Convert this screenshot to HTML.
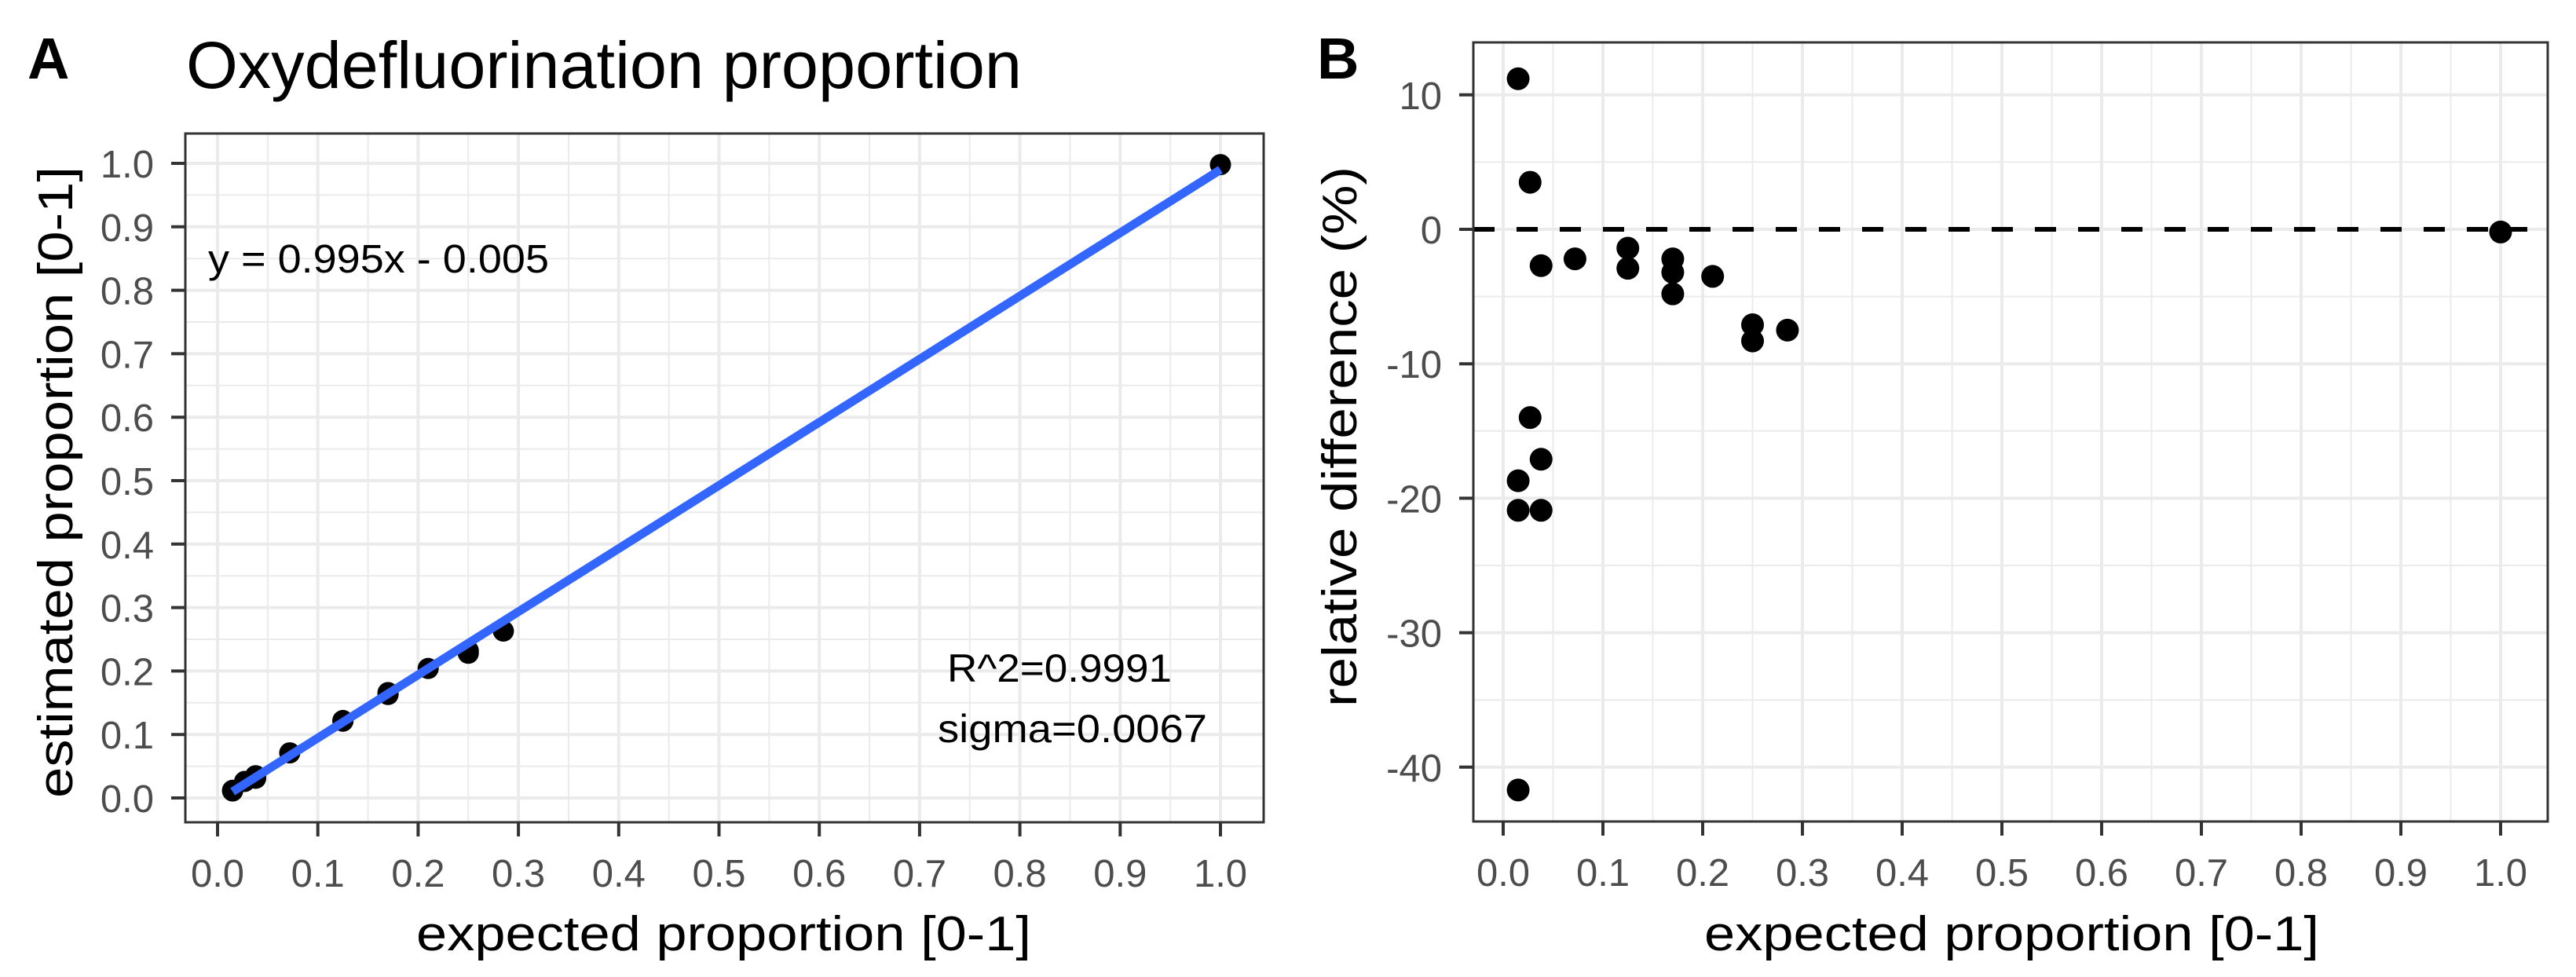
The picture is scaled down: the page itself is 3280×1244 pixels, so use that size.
<!DOCTYPE html>
<html><head><meta charset="utf-8"><style>
html,body{margin:0;padding:0;background:#fff}
svg{display:block}
text{font-family:"Liberation Sans",Arial,sans-serif}
</style></head><body>
<svg id="fig" width="3280" height="1244" viewBox="0 0 3280 1244" xmlns="http://www.w3.org/2000/svg">
<rect width="3280" height="1244" fill="#fff"/>
<text x="35" y="100" font-size="74" font-weight="bold">A</text>
<text x="237" y="112" font-size="84" textLength="1064" lengthAdjust="spacingAndGlyphs">Oxydefluorination proportion</text>
<text x="1677" y="100" font-size="74" font-weight="bold">B</text>
<g id="pa"></g>
<g id="pb"></g>
</svg>
<script>
// Panel A data
const aX = [0.015,0.015,0.027,0.038,0.038,0.072,0.125,0.125,0.17,0.17,0.21,0.25,0.25,0.285,1.0];
const aY = [0.012,0.011,0.026,0.031,0.035,0.071,0.122,0.121,0.166,0.163,0.204,0.232,0.228,0.263,0.998];
const aSlope = 0.995, aIntercept = -0.005;
const aXTicks = [0,0.1,0.2,0.3,0.4,0.5,0.6,0.7,0.8,0.9,1.0];
const aXTickLabels = ["0.0","0.1","0.2","0.3","0.4","0.5","0.6","0.7","0.8","0.9","1.0"];
const aYTicks = [0,0.1,0.2,0.3,0.4,0.5,0.6,0.7,0.8,0.9,1.0];
const aYTickLabels = ["0.0","0.1","0.2","0.3","0.4","0.5","0.6","0.7","0.8","0.9","1.0"];
// Panel B data
const bX = [0.015,0.027,0.038,0.072,0.125,0.125,0.17,0.17,0.17,0.21,0.25,0.25,0.285,1.0,0.027,0.038,0.015,0.015,0.038,0.015];
const bY = [11.2,3.5,-2.7,-2.2,-1.4,-2.9,-2.2,-3.2,-4.8,-3.5,-7.1,-8.3,-7.5,-0.2,-14.0,-17.1,-18.7,-20.9,-20.9,-41.7];
const bXTicks = [0,0.1,0.2,0.3,0.4,0.5,0.6,0.7,0.8,0.9,1.0];
const bXTickLabels = ["0.0","0.1","0.2","0.3","0.4","0.5","0.6","0.7","0.8","0.9","1.0"];
const bYTicks = [10,0,-10,-20,-30,-40];
const bYTickLabels = ["10","0","-10","-20","-30","-40"];
const bYMinor = [5,-5,-15,-25,-35];

const NS="http://www.w3.org/2000/svg";
function mk(parent,tag,attrs){const e=document.createElementNS(NS,tag);for(const k in attrs)e.setAttribute(k,attrs[k]);parent.appendChild(e);return e;}

function panel(g,box,sx,sy,xt,xtl,yt,ytl,yminor,xminor){
  const [L,T,R,B]=box;
  for(const v of xminor){const l=mk(g,'line',{x1:sx(v),x2:sx(v),y1:T,y2:B,stroke:'#EBEBEB','stroke-width':2});
    
    }
  for(const v of yminor){const l=mk(g,'line',{x1:L,x2:R,y1:sy(v),y2:sy(v),stroke:'#EBEBEB','stroke-width':2});
    
    }
  for(const v of xt){const l=mk(g,'line',{x1:sx(v),x2:sx(v),y1:T,y2:B,stroke:'#EBEBEB','stroke-width':4});
    
    }
  for(const v of yt){const l=mk(g,'line',{x1:L,x2:R,y1:sy(v),y2:sy(v),stroke:'#EBEBEB','stroke-width':4});
    
    }
  xt.forEach((v,i)=>{
    const t=mk(g,'line',{x1:sx(v),x2:sx(v),y1:B,y2:B+18,stroke:'#333','stroke-width':4});
    
    
    const s=mk(g,'text',{x:sx(v),y:B+82,'font-size':49,fill:'#4D4D4D','text-anchor':'middle'});
    s.textContent=xtl[i];
    
    
  });
  yt.forEach((v,i)=>{
    const t=mk(g,'line',{x1:L-18,x2:L,y1:sy(v),y2:sy(v),stroke:'#333','stroke-width':4});
    
    
    const s=mk(g,'text',{x:L-40,y:sy(v)+18,'font-size':49,fill:'#4D4D4D','text-anchor':'end'});
    s.textContent=ytl[i];
    
    
  });
}
function frame(g,box){const [L,T,R,B]=box;const r=mk(g,'rect',{x:L,y:T,width:R-L,height:B-T,fill:'none',stroke:'#333','stroke-width':3});
  
  }

// Panel A
const gA=document.getElementById('pa');
const boxA=[236,170,1609,1047];
const ax=v=>277+v*1277, ay=v=>1016-v*808;
panel(gA,boxA,ax,ay,aXTicks,aXTickLabels,aYTicks,aYTickLabels,[0.05,0.15,0.25,0.35,0.45,0.55,0.65,0.75,0.85,0.95],[0.05,0.15,0.25,0.35,0.45,0.55,0.65,0.75,0.85,0.95]);
aX.forEach((v,i)=>{const c=mk(gA,'circle',{cx:ax(v),cy:ay(aY[i]),r:13.5,fill:'#000'});
  
  });
const x0=Math.min(...aX), x1=Math.max(...aX);
const fit=mk(gA,'line',{x1:ax(x0),y1:ay(aSlope*x0+aIntercept),x2:ax(x1),y2:ay(aSlope*x1+aIntercept),stroke:'#3366FF','stroke-width':11});


frame(gA,boxA);

// Panel B
const gB=document.getElementById('pb');
const boxB=[1876,54,3244,1046];
const bx=v=>1914+v*1270, by=v=>292-v*17.12;
panel(gB,boxB,bx,by,bXTicks,bXTickLabels,bYTicks,bYTickLabels,bYMinor,[0.05,0.15,0.25,0.35,0.45,0.55,0.65,0.75,0.85,0.95]);
const zl=mk(gB,'line',{x1:1876,x2:3218,y1:by(0),y2:by(0),stroke:'#000','stroke-width':6,'stroke-dasharray':'27 28'});


bX.forEach((v,i)=>{const c=mk(gB,'circle',{cx:bx(v),cy:by(bY[i]),r:14.5,fill:'#000'});
  
  });
frame(gB,boxB);
</script>
<svg width="0" height="0" style="position:absolute"></svg>
<script>
(function(){
const s=document.getElementById('fig');
function t(attrs,txt,name){const e=document.createElementNS("http://www.w3.org/2000/svg",'text');for(const k in attrs)e.setAttribute(k,attrs[k]);e.textContent=txt;s.appendChild(e);
  
  }
t({x:265,y:347,'font-size':51,textLength:434,lengthAdjust:'spacingAndGlyphs'},'y = 0.995x - 0.005','equation-label');
t({x:1206,y:868,'font-size':50,textLength:286,lengthAdjust:'spacingAndGlyphs'},'R^2=0.9991','r-squared-label');
t({x:1194,y:945,'font-size':50,textLength:343,lengthAdjust:'spacingAndGlyphs'},'sigma=0.0067','sigma-label');
t({x:530,y:1210,'font-size':62,textLength:783,lengthAdjust:'spacingAndGlyphs'},'expected proportion [0-1]','panel-a-x-axis-title');
t({x:2170,y:1210,'font-size':62,textLength:783,lengthAdjust:'spacingAndGlyphs'},'expected proportion [0-1]','panel-b-x-axis-title');
t({x:0,y:0,'font-size':62,textLength:804,lengthAdjust:'spacingAndGlyphs',transform:'translate(92,1016) rotate(-90)'},'estimated proportion [0-1]','panel-a-y-axis-title');
t({x:0,y:0,'font-size':62,textLength:688,lengthAdjust:'spacingAndGlyphs',transform:'translate(1727,900) rotate(-90)'},'relative difference (%)','panel-b-y-axis-title');
})();
</script>
</body></html>
